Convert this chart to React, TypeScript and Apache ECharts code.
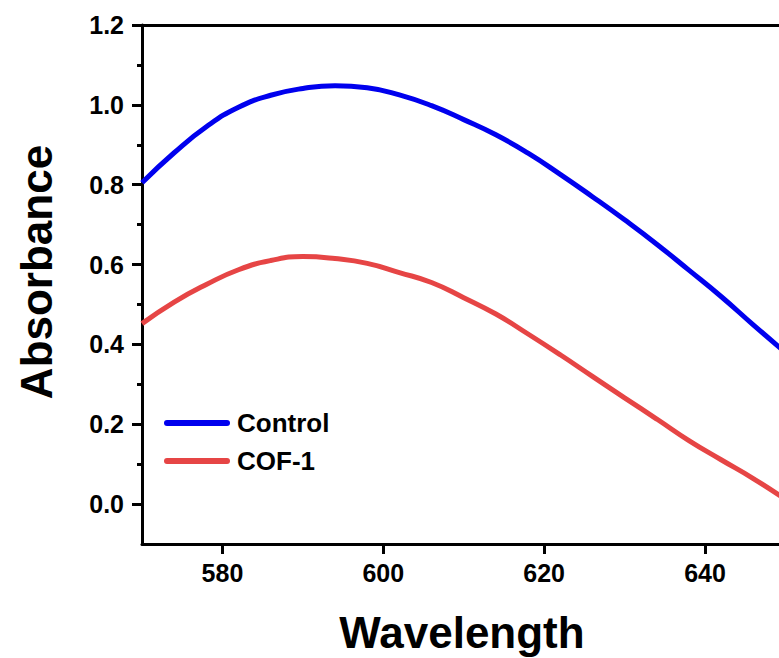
import React, { useEffect, useRef } from "react";
import * as echarts from "echarts";

const wavelengths = [570, 574, 578, 582, 586, 590, 594, 598, 602, 606, 610, 614, 618, 622, 626, 630, 634, 638, 642, 646, 650];
const control = [0.805, 0.88, 0.945, 0.994, 1.024, 1.041, 1.048, 1.043, 1.025, 0.998, 0.963, 0.925, 0.879, 0.826, 0.77, 0.712, 0.651, 0.586, 0.52, 0.449, 0.38];
const cof1 = [0.452, 0.506, 0.55, 0.587, 0.61, 0.62, 0.615, 0.603, 0.58, 0.555, 0.517, 0.476, 0.426, 0.374, 0.32, 0.266, 0.213, 0.159, 0.111, 0.064, 0.012];
const xTicks = [580, 600, 620, 640];
const yMajor = [0, 0.2, 0.4, 0.6, 0.8, 1.0, 1.2];
const yMinor = [0.1, 0.3, 0.5, 0.7, 0.9, 1.1];
const seriesNames = ["Control", "COF-1"];
const colors = ["#0000ee", "#e64545"];

const FONT = '"Liberation Sans", Arial, Helvetica, sans-serif';
const capsule = "path://M3,0 L63,0 A3,3 0 0 1 63,6 L3,6 A3,3 0 0 1 3,0 Z";

export default function App() {
  const ref = useRef<HTMLDivElement>(null);
  useEffect(() => {
    if (!ref.current) return;
    const chart = echarts.init(ref.current, null, { renderer: "svg" });
    const axisLine = { show: true, onZero: false, lineStyle: { color: "#000", width: 3 } };
    const labelStyle = { fontSize: 25, fontWeight: "bold" as const, fontFamily: FONT, color: "#000" };
    chart.setOption({
      animation: false,
      backgroundColor: "#fff",
      grid: { left: 142, top: 25, right: 0, height: 519, containLabel: false },
      legend: {
        left: 164,
        top: 410,
        orient: "vertical",
        padding: 0,
        itemWidth: 66,
        itemHeight: 6,
        itemGap: 12,
        icon: capsule,
        data: seriesNames,
        textStyle: { fontSize: 26, fontWeight: "bold", fontFamily: FONT, color: "#000", padding: [0, 0, 0, 2] },
      },
      xAxis: [
        {
          type: "value",
          min: 570,
          max: 649.2,
          interval: 10,
          position: "bottom",
          axisLine,
          axisTick: { show: true, length: 10, customValues: xTicks, lineStyle: { color: "#000", width: 3 } },
          axisLabel: { ...labelStyle, customValues: xTicks, margin: 16 },
          splitLine: { show: false },
        },
        {
          type: "value",
          min: 570,
          max: 649.2,
          position: "top",
          axisLine,
          axisTick: { show: false },
          axisLabel: { show: false },
          splitLine: { show: false },
        },
      ],
      yAxis: [
        {
          type: "value",
          min: -0.1,
          max: 1.2,
          interval: 0.1,
          position: "left",
          axisLine,
          axisTick: { show: true, length: 10, customValues: yMajor, lineStyle: { color: "#000", width: 3 } },
          axisLabel: { ...labelStyle, customValues: yMajor, margin: 18, formatter: (v: number) => v.toFixed(1) },
          splitLine: { show: false },
        },
        {
          type: "value",
          min: -0.1,
          max: 1.2,
          interval: 0.1,
          position: "left",
          axisLine: { show: false },
          axisTick: { show: true, length: 5, customValues: yMinor, lineStyle: { color: "#000", width: 3 } },
          axisLabel: { show: false },
          splitLine: { show: false },
        },
      ],
      graphic: [
        {
          type: "text",
          x: 36,
          y: 272,
          rotation: Math.PI / 2,
          style: {
            text: "Absorbance",
            fill: "#000",
            fontSize: 44,
            fontWeight: "bold",
            fontFamily: FONT,
            align: "center",
            verticalAlign: "middle",
            textAlign: "center",
            textVerticalAlign: "middle",
          },
        },
        {
          type: "text",
          x: 462,
          y: 632,
          style: {
            text: "Wavelength",
            fill: "#000",
            fontSize: 44,
            fontWeight: "bold",
            fontFamily: FONT,
            align: "center",
            verticalAlign: "middle",
            textAlign: "center",
            textVerticalAlign: "middle",
          },
        },
      ],
      series: [
        {
          name: seriesNames[0],
          type: "line",
          data: wavelengths.map((w, i) => [w, control[i]]),
          smooth: true,
          showSymbol: false,
          lineStyle: { width: 5, color: colors[0] },
          itemStyle: { color: colors[0] },
        },
        {
          name: seriesNames[1],
          type: "line",
          data: wavelengths.map((w, i) => [w, cof1[i]]),
          smooth: true,
          showSymbol: false,
          lineStyle: { width: 5, color: colors[1] },
          itemStyle: { color: colors[1] },
        },
      ],
    });
    return () => chart.dispose();
  }, []);
  return (
    <div
      ref={ref}
      style={{ position: "absolute", left: 0, top: 0, width: 779, height: 658, background: "#fff" }}
    />
  );
}
